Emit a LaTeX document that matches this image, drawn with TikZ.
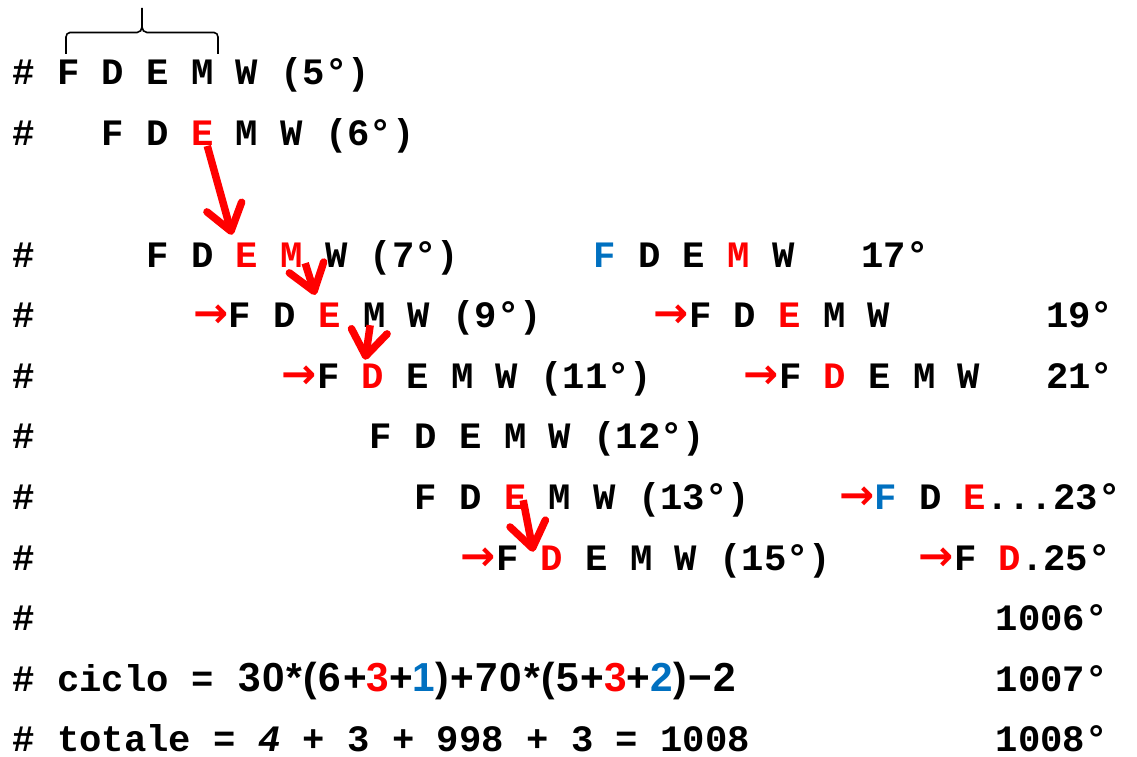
\documentclass[tikz,border=0pt]{standalone}
\usepackage{fontspec}
\setmonofont{Liberation Mono}
\newfontfamily\arrowglyph{DejaVu Sans}
\newfontfamily\sumfont{Liberation Sans}[LetterSpace=4]
\usetikzlibrary{arrows.meta}
\definecolor{ink}{HTML}{000000}
\definecolor{hot}{HTML}{FF0000}
\definecolor{cool}{HTML}{0070C0}
\tikzset{
  every node/.style={
    inner sep=0pt,
    anchor=base west,
  },
  txt/.style={
    font=\ttfamily\bfseries\fontsize{37.25}{40}\selectfont,
    text=ink,
  },
  hotch/.style={
    txt, text=hot,
  },
  rarrow/.style={
    font=\arrowglyph\bfseries\fontsize{42}{42}\selectfont,
    text=hot,
  },
  sumtxt/.style={
    font=\sumfont\bfseries\fontsize{40.5}{44}\selectfont,
    text=ink,
  },
  jump/.style={
    -{Straight Barb[length=25pt,width=36pt,round]},
    draw=hot, line width=7.5pt,
  },
  brace/.style={
    draw=ink, line width=1.6pt,
  },
}

\begin{document}
\begin{tikzpicture}[x=1pt, y=-1pt]
\useasboundingbox (0,0) rectangle (1137,757);

% ============================================
% Coordinates in px of the 1137x757 sheet, y going down
% one column of the mono font = 22.35
% ============================================

% ----- hash column -----
\foreach \r/\y in {1/85, 2/145.7, 3/267, 4/327.6, 5/388.3, 6/448.9,
                   7/509.6, 8/570.2, 9/630.9, 10/691.5, 11/751}
  \node[txt] (hash\r) at (12.1,\y) {\#};

% ----- Row 1 + brace -----
\node[txt] (row1) at (56.8,85) {F D E M W (5°)};
\draw[brace] (66,54) -- (66,37) to[out=90,in=180] (70,32.5) -- (137,32.5)
  to[out=0,in=-90] (142,27) -- (142,8);
\draw[brace] (218,54) -- (218,37) to[out=90,in=0] (214,32.5) -- (147,32.5)
  to[out=180,in=-90] (142,27);

% ----- Row 2 -----
\node[txt]   (r2a) at (101.5,145.7) {F D};
\node[hotch] (e2)  at (190.9,145.7) {E};
\node[txt]   (r2b) at (235.6,145.7) {M W (6°)};

% ----- Row 3 -----
\node[txt]   (r3a) at (146.2,267) {F D};
\node[hotch] (e3)  at (235.6,267) {E};
\node[hotch] (m3)  at (280.3,267) {M};
\node[txt]   (r3b) at (325.0,267) {W (7°)};
\node[txt]   (r3c) at (593.2,267) {\textcolor{cool}{F} D E \textcolor{hot}{M} W};
\node[txt]   (r3d) at (861.4,267) {17°};

% ----- Row 4 -----
\node[rarrow] (p4a) at (193.0,327.6) {→};
\node[txt]    (r4a) at (228.3,327.6) {F D};
\node[hotch]  (e4)  at (318.3,327.6) {E};
\node[txt]    (r4b) at (363.0,327.6) {M W (9°)};
\node[rarrow] (p4b) at (653.5,327.6) {→};
\node[txt]    (r4c) at (688.8,327.6) {F D \textcolor{hot}{E} M W};
\node[txt]    (r4d) at (1046,327.6) {19°};

% ----- Row 5 -----
\node[rarrow] (p5a) at (281.5,388.3) {→};
\node[txt]    (r5a) at (316.8,388.3) {F};
\node[hotch]  (d5)  at (361.5,388.3) {D};
\node[txt]    (r5b) at (406.2,388.3) {E M W (11°)};
\node[rarrow] (p5b) at (743.5,388.3) {→};
\node[txt]    (r5c) at (778.8,388.3) {F \textcolor{hot}{D} E M W};
\node[txt]    (r5d) at (1046,388.3) {21°};

% ----- Row 6 -----
\node[txt] (r6a) at (369.7,448.9) {F D E M W (12°)};

% ----- Row 7 -----
\node[txt]    (r7a) at (414.4,509.6) {F D};
\node[hotch]  (e7)  at (503.8,509.6) {E};
\node[txt]    (r7b) at (548.5,509.6) {M W (13°)};
\node[rarrow] (p7)  at (839.0,509.6) {→};
\node[txt]    (r7c) at (874.3,509.6) {\textcolor{cool}{F} D \textcolor{hot}{E}...23°};

% ----- Row 8 -----
\node[rarrow] (p8a) at (460.5,570.2) {→};
\node[txt]    (r8a) at (495.8,570.2) {F};
\node[hotch]  (d8)  at (540.5,570.2) {D};
\node[txt]    (r8b) at (585.2,570.2) {E M W (15°)};
\node[rarrow] (p8b) at (918.5,570.2) {→};
\node[txt]    (r8c) at (953.8,570.2) {F \textcolor{hot}{D}.25°};

% ----- Rows 9-11 -----
\node[txt]    (r9)   at (995.5,630.9) {1006°};
\node[txt]    (r10a) at (56.8,691.5) {ciclo =};
\node[sumtxt] (r10b) at (238,691.5)
  {30*(6+\textcolor{hot}{3}+\textcolor{cool}{1})+70*(5+\textcolor{hot}{3}+\textcolor{cool}{2})−2};
\node[txt]    (r10c) at (995.5,691.5) {1007°};
\node[txt]    (r11a) at (56.8,751) {totale = \textit{4} + 3 + 998 + 3 = 1008};
\node[txt]    (r11b) at (995.5,751) {1008°};

% ============================================
% Jumps between the red letters
% ============================================
\draw[jump] ([shift={(5,0)}]e2.south)       -- ([shift={(-15,-7.5)}]e3.north);
\draw[jump] ([shift={(13.5,-4)}]m3.south)   -- ([shift={(-14.5,-8)}]e4.north);
\draw[jump] ([shift={(40.5,-2.6)}]e4.south) -- ([shift={(-7.7,-3.8)}]d5.north);
\draw[jump] ([shift={(8,-9.6)}]e7.south)    -- ([shift={(-18.7,6.3)}]d8.north);

\end{tikzpicture}
\end{document}
